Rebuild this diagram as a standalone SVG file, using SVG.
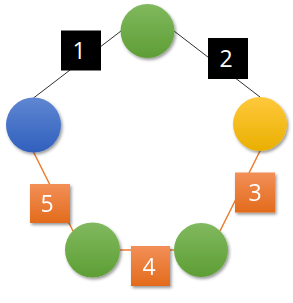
<svg xmlns="http://www.w3.org/2000/svg" width="293" height="303" viewBox="0 0 293 303">
<defs>
<linearGradient id="gGreen" x1="0" y1="0" x2="0" y2="1"><stop offset="0" stop-color="#80B95E"/><stop offset="1" stop-color="#5E9E35"/></linearGradient>
<linearGradient id="gBlue" x1="0" y1="0" x2="0" y2="1"><stop offset="0" stop-color="#5F86D2"/><stop offset="1" stop-color="#3060BD"/></linearGradient>
<linearGradient id="gYellow" x1="0" y1="0" x2="0" y2="1"><stop offset="0" stop-color="#FFC93C"/><stop offset="1" stop-color="#E9AF00"/></linearGradient>
<linearGradient id="gOrange" x1="0" y1="0" x2="0" y2="1"><stop offset="0" stop-color="#F28F58"/><stop offset="1" stop-color="#E36B1B"/></linearGradient>
<filter id="sh" x="-20%" y="-20%" width="150%" height="150%"><feDropShadow dx="1.5" dy="2" stdDeviation="1.5" flood-color="#000" flood-opacity="0.4"/></filter>
</defs>
<style>
.blk{stroke:#303030;stroke-width:1;fill:none}
.org{stroke:#ED7D31;stroke-width:1.6;fill:none}
.lbl{font-family:"Open Sans","Noto Sans",sans-serif;font-size:23px;fill:#fff;text-anchor:middle}
.node{filter:url(#sh)}
</style>
<g id="connectors">
<line class="blk" x1="121" y1="31" x2="33.5" y2="98"/>
<line class="blk" x1="174" y1="31" x2="260" y2="97"/>
<line class="org" x1="260" y1="151" x2="220" y2="231"/>
<line class="org" x1="120" y1="250" x2="174" y2="250"/>
<line class="org" x1="33.5" y1="152" x2="73" y2="231"/>
</g>
<g id="n-top" class="node"><circle cx="147.5" cy="31" r="27" fill="url(#gGreen)"/></g>
<g id="n-left" class="node"><circle cx="33.5" cy="125" r="27.5" fill="url(#gBlue)"/></g>
<g id="n-right" class="node"><circle cx="260" cy="124" r="27" fill="url(#gYellow)"/></g>
<g id="n-bl" class="node"><circle cx="92.5" cy="250" r="27.5" fill="url(#gGreen)"/></g>
<g id="n-br" class="node"><circle cx="201" cy="250" r="27" fill="url(#gGreen)"/></g>
<g id="b1"><rect x="61" y="30.5" width="40" height="40" fill="#000"/><text class="lbl" x="79" y="59">1</text></g>
<g id="b2"><rect x="208" y="38" width="40" height="41" fill="#000"/><text class="lbl" x="226" y="67">2</text></g>
<g id="b3" class="node"><rect x="235" y="172.5" width="40" height="40" fill="url(#gOrange)"/><text class="lbl" x="255" y="201">3</text></g>
<g id="b4" class="node"><rect x="131" y="246" width="39" height="40" fill="url(#gOrange)"/><text class="lbl" x="149" y="274.5">4</text></g>
<g id="b5" class="node"><rect x="30" y="184" width="40" height="39" fill="url(#gOrange)"/><text class="lbl" x="47" y="212">5</text></g>
</svg>
